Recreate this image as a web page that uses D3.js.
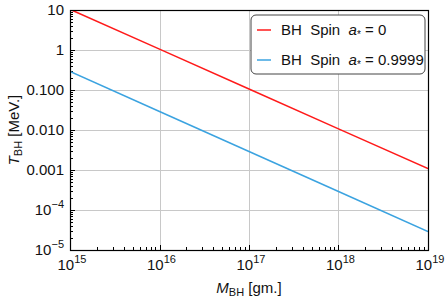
<!DOCTYPE html>
<html>
<head>
<meta charset="utf-8">
<script src="https://cdn.jsdelivr.net/npm/d3@7"></script>
<style>
  body { margin: 0; background: #fff; }
  svg { display: block; font-family: "Liberation Sans", Arial, sans-serif; }
</style>
</head>
<body>
<svg width="445" height="301"></svg>
<script>
// black hole mass in grams
var masses = [1e15, 1e16, 1e17, 1e18, 1e19];
// Hawking temperature in MeV
var tempSpin0 = [10.4, 1.05, 0.106, 0.0107, 0.00108];
var tempSpin9999 = [0.29, 0.029, 0.0029, 0.00029, 0.000029];

var seriesNames = ["0", "0.9999"];
var xTickExps = ["15", "16", "17", "18", "19"];
var yTicks = [10, 1, 0.1, 0.01, 0.001, 1e-4, 1e-5];
var yTickLabels = ["10", "1", "0.100", "0.010", "0.001", "10^-4", "10^-5"];

var svg = d3.select("svg"),
    width = +svg.attr("width"),
    height = +svg.attr("height"),
    margin = {top: 10, right: 17, bottom: 51, left: 70};

var x = d3.scaleLog()
    .domain([1e15, 1e19])
    .range([margin.left, width - margin.right]);

var y = d3.scaleLog()
    .domain([1e-5, 10])
    .range([height - margin.bottom, margin.top]);

var colors = ["#ff1a1a", "#3ba3e0"];

svg.append("clipPath")
    .attr("id", "clip")
  .append("rect")
    .attr("x", x.range()[0])
    .attr("y", y.range()[1])
    .attr("width", x.range()[1] - x.range()[0])
    .attr("height", y.range()[0] - y.range()[1]);

// grid
svg.append("g")
    .attr("stroke", "#c8c8c8")
    .attr("stroke-width", 1)
  .selectAll("line.gx")
  .data(masses.slice(1, -1))
  .enter().append("line")
    .attr("x1", function(d) { return Math.round(x(d)) + 0.5; })
    .attr("x2", function(d) { return Math.round(x(d)) + 0.5; })
    .attr("y1", y.range()[1])
    .attr("y2", y.range()[0]);

svg.append("g")
    .attr("stroke", "#c8c8c8")
    .attr("stroke-width", 1)
  .selectAll("line.gy")
  .data(yTicks.slice(1, -1))
  .enter().append("line")
    .attr("y1", function(d) { return Math.round(y(d)) + 0.5; })
    .attr("y2", function(d) { return Math.round(y(d)) + 0.5; })
    .attr("x1", x.range()[0])
    .attr("x2", x.range()[1]);

// minor + major ticks, drawn inside the frame
function logTicks(domain) {
  var out = [];
  var lo = Math.round(Math.log10(domain[0])), hi = Math.round(Math.log10(domain[1]));
  for (var e = lo; e <= hi; e++) {
    for (var k = 1; k <= 9; k++) {
      var v = k * Math.pow(10, e);
      if (v <= domain[1] * 1.0001) out.push({v: v, major: k === 1});
    }
  }
  return out;
}

var tickG = svg.append("g").attr("stroke", "#000").attr("stroke-width", 1);

tickG.selectAll("line.tx")
  .data(logTicks(x.domain()))
  .enter().append("line")
    .attr("x1", function(d) { return Math.round(x(d.v)) + 0.5; })
    .attr("x2", function(d) { return Math.round(x(d.v)) + 0.5; })
    .attr("y1", y.range()[0])
    .attr("y2", function(d) { return y.range()[0] - (d.major ? 5 : 3); });

tickG.selectAll("line.ty")
  .data(logTicks(y.domain()))
  .enter().append("line")
    .attr("y1", function(d) { return Math.round(y(d.v)) + 0.5; })
    .attr("y2", function(d) { return Math.round(y(d.v)) + 0.5; })
    .attr("x1", x.range()[0])
    .attr("x2", function(d) { return x.range()[0] + (d.major ? 5 : 3); });

// series
var line = d3.line()
    .x(function(d) { return x(d[0]); })
    .y(function(d) { return y(d[1]); });

[tempSpin0, tempSpin9999].forEach(function(vals, i) {
  svg.append("path")
      .datum(masses.map(function(m, j) { return [m, vals[j]]; }))
      .attr("clip-path", "url(#clip)")
      .attr("fill", "none")
      .attr("stroke", colors[i])
      .attr("stroke-width", 1.5)
      .attr("d", line);
});

// frame
svg.append("rect")
    .attr("x", x.range()[0] + 0.5)
    .attr("y", y.range()[1] + 0.5)
    .attr("width", x.range()[1] - x.range()[0])
    .attr("height", y.range()[0] - y.range()[1])
    .attr("fill", "none")
    .attr("stroke", "#000")
    .attr("stroke-width", 1.2);

// y tick labels
var yl = svg.append("g")
    .attr("font-size", 15)
    .attr("fill", "#111")
    .attr("text-anchor", "end");

yTicks.forEach(function(t, i) {
  var lab = yTickLabels[i];
  var txt = yl.append("text")
      .attr("x", x.range()[0] - 6)
      .attr("y", y(t) + 5);
  if (lab.indexOf("^") >= 0) {
    var parts = lab.split("^");
    txt.append("tspan").text(parts[0]);
    txt.append("tspan").attr("font-size", 11).attr("dy", -7).text(parts[1].replace("-", "\u2212"));
  } else {
    txt.text(lab);
  }
});

// x tick labels
var xl = svg.append("g")
    .attr("font-size", 15)
    .attr("fill", "#111")
    .attr("text-anchor", "middle");

masses.forEach(function(m, i) {
  var txt = xl.append("text")
      .attr("x", x(m) + 2)
      .attr("y", y.range()[0] + 20);
  txt.append("tspan").text("10");
  txt.append("tspan").attr("font-size", 11).attr("dy", -7).text(xTickExps[i]);
});

// axis titles
var xt = svg.append("text")
    .attr("x", (x.range()[0] + x.range()[1]) / 2)
    .attr("y", height - 8)
    .attr("font-size", 15)
    .attr("fill", "#111")
    .attr("text-anchor", "middle");
xt.append("tspan").attr("font-style", "italic").text("M");
xt.append("tspan").attr("font-size", 11).attr("dy", 3).text("BH");
xt.append("tspan").attr("dy", -3).text(" [gm.]");

var yt = svg.append("text")
    .attr("transform", "translate(19," + ((y.range()[0] + y.range()[1]) / 2) + ") rotate(-90)")
    .attr("font-size", 15)
    .attr("fill", "#111")
    .attr("text-anchor", "middle");
yt.append("tspan").attr("font-style", "italic").text("T");
yt.append("tspan").attr("font-size", 11).attr("dy", 3).text("BH");
yt.append("tspan").attr("dy", -3).text(" [MeV.]");

// legend
var lg = svg.append("g").attr("transform", "translate(251,15)");
lg.append("rect")
    .attr("width", 174)
    .attr("height", 59)
    .attr("rx", 5)
    .attr("fill", "#fff")
    .attr("stroke", "#444")
    .attr("stroke-width", 1);

seriesNames.forEach(function(s, i) {
  var ry = 15 + i * 30;
  lg.append("line")
      .attr("x1", 6).attr("x2", 20)
      .attr("y1", ry).attr("y2", ry)
      .attr("stroke", colors[i])
      .attr("stroke-width", 1.5);
  var t = lg.append("text")
      .attr("x", 30)
      .attr("y", ry + 5)
      .attr("font-size", 15)
      .attr("fill", "#111")
      .attr("xml:space", "preserve");
  t.append("tspan").text("BH  Spin  ");
  t.append("tspan").attr("font-style", "italic").text("a");
  t.append("tspan").attr("font-size", 10).attr("dy", 3).text("*");
  t.append("tspan").attr("dy", -3).text(" = " + s);
});
</script>
</body>
</html>
